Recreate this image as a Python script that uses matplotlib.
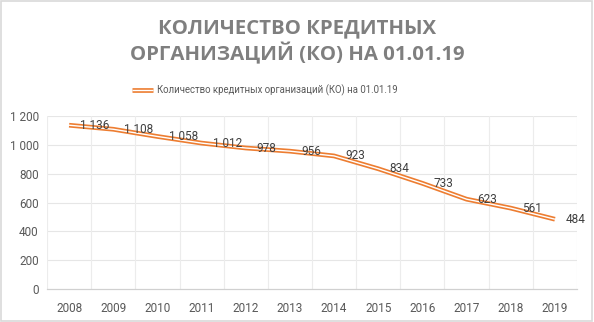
import matplotlib
matplotlib.use("Agg")
import matplotlib.pyplot as plt
from matplotlib.patches import Rectangle

years = ["2008", "2009", "2010", "2011", "2012", "2013", "2014", "2015", "2016", "2017", "2018", "2019"]
values = [1136, 1108, 1058, 1012, 978, 956, 923, 834, 733, 623, 561, 484]
yticks = [0, 200, 400, 600, 800, 1000, 1200]
title = "КОЛИЧЕСТВО КРЕДИТНЫХ\nОРГАНИЗАЦИЙ (КО) НА 01.01.19"
series_name = "Количество кредитных организаций (КО) на 01.01.19"

def fmt(v):
    return f"{v:,}".replace(",", " ")

plt.rcParams['font.family'] = ['Roboto', 'DejaVu Sans']

fig = plt.figure(figsize=(5.94, 3.22), dpi=100)
fig.patch.set_facecolor("white")
fig.add_artist(Rectangle((0.002, 0.003), 0.995, 0.993, transform=fig.transFigure,
                         fill=False, edgecolor="#d9d9d9", linewidth=1.2))

ax = fig.add_axes([47/594, 1-289/322, 530/594, 173/322])
x = list(range(len(years)))
orange = "#ED7D31"
ax.plot(x, values, color=orange, lw=3.4, solid_capstyle="butt", solid_joinstyle="round", zorder=3)
ax.plot(x, values, color="white", lw=1.0, solid_capstyle="butt", solid_joinstyle="round", zorder=4)

for xi, v in zip(x, values):
    ax.annotate(fmt(v), (xi, v), xytext=(8, 0), textcoords="offset points",
                ha="left", va="center", fontsize=8.5, color="#404040", zorder=5)

ax.set_xlim(-0.5, len(years) - 0.5)
ax.set_ylim(0, 1200)
ax.set_yticks(yticks)
ax.set_yticklabels([fmt(t) for t in yticks])
ax.set_xticks(x)
ax.set_xticklabels(years)
ax.tick_params(axis="both", length=0, labelsize=8.5, colors="#595959")
ax.tick_params(axis="x", pad=9)
ax.tick_params(axis="y", pad=6)

for t in yticks[1:]:
    ax.axhline(t, color="#e6e6e6", lw=0.8, zorder=1)
for b in [i + 0.5 for i in range(-1, len(years))]:
    ax.axvline(b, color="#ececec", lw=0.8, zorder=1)

for s in ["top", "right", "left"]:
    ax.spines[s].set_visible(False)
ax.spines["bottom"].set_color("#d0d0d0")
ax.spines["bottom"].set_linewidth(0.9)

fig.text(0.5, 1-42/322, title, ha="center", va="center", fontsize=14.7,
         fontweight="bold", color="#7f7f7f", linespacing=1.32,
         family=["Open Sans", "DejaVu Sans"])

# legend
ly = 1 - 90/322
fig.add_artist(plt.Line2D([132/594, 153/594], [ly, ly], transform=fig.transFigure,
                          color=orange, lw=3.4, solid_capstyle="butt"))
fig.add_artist(plt.Line2D([132/594, 153/594], [ly, ly], transform=fig.transFigure,
                          color="white", lw=1.0, solid_capstyle="butt"))
fig.text(157/594, ly, series_name, ha="left", va="center", fontsize=6.9, color="#595959")

fig.savefig("out.png", dpi=100, facecolor="white")
